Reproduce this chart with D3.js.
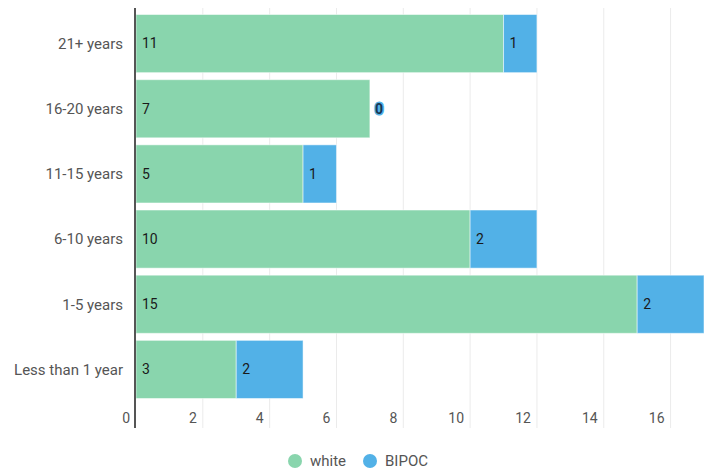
<!DOCTYPE html>
<html>
<head>
<meta charset="utf-8">
<script src="https://cdn.jsdelivr.net/npm/d3@7"></script>
<style>
    body { margin: 0; background: #fff; font-family: Roboto, "Noto Sans", sans-serif; }
</style>
</head>
<body>
<div id="chart"></div>
<script>
var categories = ["21+ years", "16-20 years", "11-15 years", "6-10 years", "1-5 years", "Less than 1 year"];
var whiteValues = [11, 7, 5, 10, 15, 3];
var bipocValues = [1, 0, 1, 2, 2, 2];
var seriesNames = ["white", "BIPOC"];
var seriesColors = ["#89d5ad", "#52b1e7"];
var xTicks = [0, 2, 4, 6, 8, 10, 12, 14, 16];

var width = 707,
    height = 469,
    margin = {top: 8, right: 3, bottom: 41, left: 135};

var rows = categories.map(function(c, i) {
    return {category: c, white: whiteValues[i], BIPOC: bipocValues[i]};
});

var stack = d3.stack().keys(seriesNames);
var layers = stack(rows);

var x = d3.scaleLinear()
    .domain([0, 17])
    .range([margin.left + 1, width - margin.right]);

var y = d3.scaleBand()
    .domain(categories)
    .range([11, 402])
    .paddingInner(0.108)
    .paddingOuter(0.054);

var color = d3.scaleOrdinal().domain(seriesNames).range(seriesColors);

var svg = d3.select("#chart").append("svg")
    .attr("width", width)
    .attr("height", height);

// gridlines
svg.append("g")
    .selectAll("line")
    .data(xTicks.slice(1))
    .enter().append("line")
    .attr("x1", function(d) { return x(d); })
    .attr("x2", function(d) { return x(d); })
    .attr("y1", margin.top)
    .attr("y2", 428)
    .attr("stroke", "#ebebeb")
    .attr("stroke-width", 1);

// tick labels (sit left of the gridline)
svg.append("g")
    .selectAll("text")
    .data(xTicks)
    .enter().append("text")
    .attr("x", function(d) { return x(d) - 6; })
    .attr("y", 423)
    .attr("text-anchor", "end")
    .style("font-size", "14px")
    .style("fill", "#555")
    .text(function(d) { return d; });

// bars
var layer = svg.append("g").selectAll("g")
    .data(layers)
    .enter().append("g")
    .attr("fill", function(d) { return color(d.key); });

layer.selectAll("rect")
    .data(function(d) { return d; })
    .enter().append("rect")
    .attr("x", function(d) { return x(d[0]); })
    .attr("width", function(d) { return x(d[1]) - x(d[0]); })
    .attr("y", function(d) { return y(d.data.category); })
    .attr("height", y.bandwidth())
    .attr("stroke", "rgba(255,255,255,0.5)")
    .attr("stroke-width", 1);

// value labels
layers.forEach(function(l) {
    var g = svg.append("g");
    l.forEach(function(d) {
        var v = d.data[l.key];
        var t = g.append("text")
            .attr("x", x(d[0]) + 6)
            .attr("y", y(d.data.category) + y.bandwidth() / 2)
            .attr("dy", "0.35em")
            .style("font-size", "14px")
            .style("fill", "#1a1a1a")
            .text(v);
        if (v === 0) {
            t.attr("x", x(d[0]) + 5)
                .style("stroke", color(l.key))
                .style("stroke-width", 3)
                .style("paint-order", "stroke")
                .style("stroke-linejoin", "round")
                .style("font-weight", "bold")
                .style("fill", "#1a3550");
        }
    });
});

// category labels
svg.append("g")
    .selectAll("text")
    .data(categories)
    .enter().append("text")
    .attr("x", margin.left - 12)
    .attr("y", function(d) { return y(d) + y.bandwidth() / 2; })
    .attr("dy", "0.35em")
    .attr("text-anchor", "end")
    .style("font-size", "15px")
    .style("fill", "#555")
    .text(function(d) { return d; });

// y axis line
svg.append("line")
    .attr("x1", margin.left)
    .attr("x2", margin.left)
    .attr("y1", margin.top)
    .attr("y2", 428)
    .attr("stroke", "#555")
    .attr("stroke-width", 2);

// legend
var legendX = [295, 370];
var legend = svg.append("g").selectAll("g")
    .data(seriesNames)
    .enter().append("g")
    .attr("transform", function(d, i) { return "translate(" + legendX[i] + ",461)"; });

legend.append("circle")
    .attr("r", 7)
    .attr("fill", function(d) { return color(d); });

legend.append("text")
    .attr("x", 15)
    .attr("dy", "0.35em")
    .style("font-size", "15px")
    .style("fill", "#555")
    .text(function(d) { return d; });
</script>
</body>
</html>
